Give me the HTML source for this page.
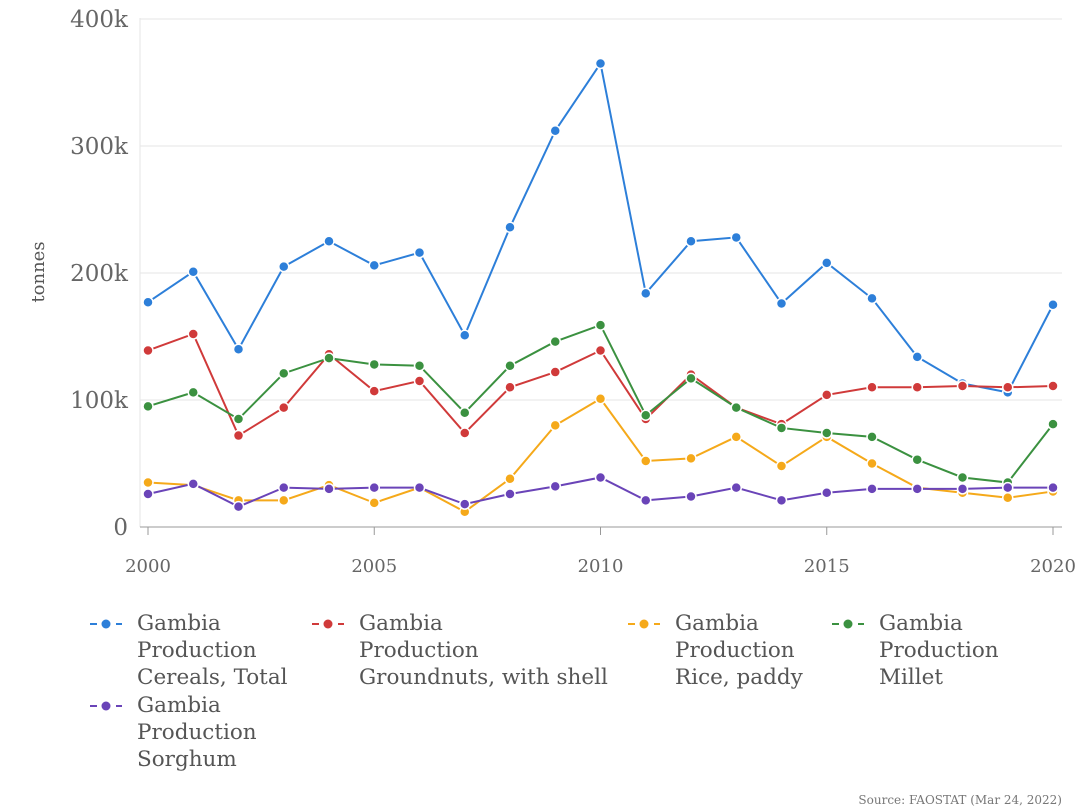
<!DOCTYPE html>
<html><head><meta charset="utf-8"><style>
body{margin:0;background:#fff;}
svg{display:block;font-family:"DejaVu Serif","Liberation Serif",serif;}
</style></head><body>
<svg id="chart" width="1083" height="812">
<g id="grid"></g>
<g id="axes"></g>
<g id="series"></g>
<g id="legend"></g>
<text x="44" y="272" transform="rotate(-90 44 272)" text-anchor="middle" font-size="18" fill="#555">tonnes</text>
<text x="1062" y="804" text-anchor="end" font-size="12" fill="#777">Source: FAOSTAT (Mar 24, 2022)</text>
</svg>
<script>
const years=[2000,2001,2002,2003,2004,2005,2006,2007,2008,2009,2010,2011,2012,2013,2014,2015,2016,2017,2018,2019,2020];
const cereals=[177,201,140,205,225,206,216,151,236,312,365,184,225,228,176,208,180,134,113,106,175];
const groundnuts=[139,152,72,94,136,107,115,74,110,122,139,85,120,94,81,104,110,110,111,110,111];
const rice=[35,33,21,21,33,19,31,12,38,80,101,52,54,71,48,71,50,31,27,23,28];
const millet=[95,106,85,121,133,128,127,90,127,146,159,88,117,94,78,74,71,53,39,35,81];
const sorghum=[26,34,16,31,30,31,31,18,26,32,39,21,24,31,21,27,30,30,30,31,31];
const yTicks=[0,100,200,300,400];
const yTickLabels=["0","100k","200k","300k","400k"];
const xTicks=[2000,2005,2010,2015,2020];
const seriesNames=["Cereals, Total","Groundnuts, with shell","Rice, paddy","Millet","Sorghum"];
const NS="http://www.w3.org/2000/svg";
const X=y=>148+(y-2000)*45.25;
const Y=v=>527-v*1.27;
function mk(tag,attrs,parent){const e=document.createElementNS(NS,tag);for(const k in attrs)e.setAttribute(k,attrs[k]);parent.appendChild(e);return e;}
const grid=document.getElementById('grid'),axes=document.getElementById('axes'),ser=document.getElementById('series'),leg=document.getElementById('legend');
yTicks.forEach((t,i)=>{
 if(t>0){const l=mk('line',{x1:140,x2:1062,y1:Y(t),y2:Y(t),stroke:'#e6e6e6','stroke-width':1},grid);
 
 }
 const tx=mk('text',{x:128,y:Y(t)+8,'text-anchor':'end','font-size':23,fill:'#666'},axes);tx.textContent=yTickLabels[i];
 
 
});
const base=mk('line',{x1:140,x2:1062,y1:527,y2:527,stroke:'#999','stroke-width':1},axes);


const vline=mk('line',{x1:140,x2:140,y1:18,y2:527,stroke:'#e6e6e6','stroke-width':1},grid);


xTicks.forEach(t=>{
 const tk=mk('line',{x1:X(t),x2:X(t),y1:527,y2:535,stroke:'#999'},axes);
 
 
 const tx=mk('text',{x:X(t),y:572,'text-anchor':'middle','font-size':18,fill:'#666'},axes);tx.textContent=t;
 
 
});
const data=[cereals,groundnuts,rice,millet,sorghum];
const colors=['#2d7fd9','#d03a3a','#f5a91a','#3b9140','#6a44b8'];
const slugs=['cereals','groundnuts','rice','millet','sorghum'];
data.forEach((d,s)=>{
 const g=mk('g',{},ser);
 
 
 const p=mk('path',{d:d.map((v,i)=>(i?'L':'M')+X(years[i])+','+Y(v)).join(''),fill:'none',stroke:colors[s],'stroke-width':2},g);
 
 
 d.forEach((v,i)=>{const c=mk('circle',{cx:X(years[i]),cy:Y(v),r:5,fill:colors[s],stroke:'#fff','stroke-width':1.5},g);
 
 });
});
const legPos=[[90,630],[312,630],[628,630],[832,630],[90,712]];
seriesNames.forEach((n,s)=>{
 const [x,y]=legPos[s];
 const g=mk('g',{},leg);
 
 
 mk('line',{x1:x,x2:x+32,y1:y-6,y2:y-6,stroke:colors[s],'stroke-width':2,'stroke-dasharray':'7,6'},g);
 mk('circle',{cx:x+16,cy:y-6,r:4.5,fill:colors[s]},g);
 ["Gambia","Production",n].forEach((t,k)=>{const tx=mk('text',{x:x+47,y:y+k*27,'font-size':21.5,fill:'#555'},g);tx.textContent=t;});
});
</script>
</body></html>
